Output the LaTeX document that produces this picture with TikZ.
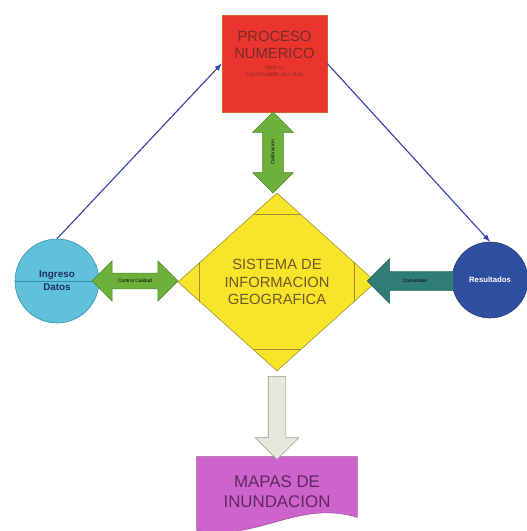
\documentclass[tikz,border=0pt]{standalone}
\usepackage{fontspec}
\setmainfont{Liberation Sans}
\usepackage{tikz}
\usetikzlibrary{positioning,arrows,calc,backgrounds,shapes.geometric,shapes.arrows}
\definecolor{colorproc}     {RGB}{234,52 ,46 }
\definecolor{colorprocline} {RGB}{214,92 ,40 }
\definecolor{colorproctext} {RGB}{120,44 ,40 }
\definecolor{colorgis}      {RGB}{248,228,40 }
\definecolor{colorgisline}  {RGB}{160,140,50 }
\definecolor{colorgistext}  {RGB}{110,90 ,40 }
\definecolor{colorgreen}    {RGB}{110,176,60 }
\definecolor{colorgreenline}{RGB}{78 ,140,44 }
\definecolor{colorteal}     {RGB}{48 ,124,118}
\definecolor{colorin}       {RGB}{96 ,194,218}
\definecolor{colorinline}   {RGB}{50 ,140,180}
\definecolor{colorout}      {RGB}{46 ,78 ,160}
\definecolor{colorlink}     {RGB}{56 ,66 ,170}
\definecolor{colorgrey}     {RGB}{230,232,222}
\definecolor{colorgreyline} {RGB}{150,150,140}
\definecolor{colormap}      {RGB}{204,100,204}
\definecolor{colormaptext}  {RGB}{96 ,40 ,96 }

\begin{document}
\begin{tikzpicture}[
    x=0.025cm, y=-0.025cm,
    base/.style={inner sep=0pt,align=center},
    procbox/.style={base,rectangle,draw=colorprocline,fill=colorproc,text=colorproctext,
        minimum width=2.625cm,minimum height=2.425cm},
    gisbox/.style={base,diamond,draw=colorgisline,fill=colorgis,text=colorgistext,
        minimum width=4.95cm,minimum height=4.45cm,font={\fontsize{10.5}{12.5}\selectfont}},
    datacirc/.style={base,circle,thin},
    dblarrow/.style={double arrow,draw=colorgreenline,fill=colorgreen,
        double arrow head extend=0.31cm,inner xsep=1pt,
        text height=2.5pt,text depth=0.7pt,font={\fontsize{3.5}{4}\selectfont}},
    link/.style={-latex,thick,draw=colorlink},
]

    \useasboundingbox (0,0) rectangle (526,531);

    % Modelo
    \node[procbox] (proc) at (274.5,63.5) {};
    \node[base,text=colorproctext,font={\fontsize{10.5}{12.5}\selectfont}]
        (proctitle) at (274.5,45) {PROCESO\\NUMERICO};
    \node[base,text=colorproctext,font={\fontsize{3.5}{4.5}\selectfont},below=5pt of proctitle]
        (procsub) {MIKE 11\\CON DAMBRK HEC-RAS};

    % SIG
    \node[gisbox] (sig) at (277,282) {SISTEMA DE\\INFORMACION\\GEOGRAFICA};
    \draw[colorgisline] ($(sig.north)+(-24,22)$) -- ($(sig.north)+(24,22)$);
    \draw[colorgisline] ($(sig.south)+(-24,-22)$) -- ($(sig.south)+(24,-22)$);
    \draw[colorgisline] ($(sig.west)+(22,-20)$) -- ($(sig.west)+(22,20)$);
    \draw[colorgisline] ($(sig.east)+(-22,-20)$) -- ($(sig.east)+(-22,20)$);

    % Datos
    \node[datacirc,draw=colorinline,fill=colorin,minimum size=2.1cm] (ingreso) at (57,281) {};
    \draw[colorinline] (ingreso.west) -- (ingreso.east);
    \node[base,text=colorout!60!black,font={\fontsize{7}{8}\selectfont\bfseries},above=1pt of ingreso.center] {Ingreso};
    \node[base,text=colorout!60!black,font={\fontsize{7}{8}\selectfont\bfseries},below=2pt of ingreso.center] {Datos};
    \node[datacirc,draw=colorout!80!black,fill=colorout,text=white,minimum size=1.9cm,
        font={\fontsize{5.5}{6}\selectfont\bfseries}] (result) at (490,280) {Resultados};

    % Flechas
    \node[dblarrow,rotate=90,inner ysep=5.5pt,double arrow head extend=0.25cm,minimum height=2.025cm]
        (calib) at (273,152.5) {Calibracion};
    \node[dblarrow,inner ysep=3.75pt,minimum height=2.15cm] (control) at (135,281) {Control Calidad};
    \node[single arrow,draw=colorteal!80!black,fill=colorteal,shape border rotate=180,
        single arrow head extend=0.325cm,inner ysep=4.8pt,inner xsep=1pt,
        text height=2.5pt,text depth=0.7pt,font={\fontsize{3.5}{4}\selectfont},
        minimum height=2.15cm] (conv) at (415,281) {Conversion};
    \node[single arrow,draw=colorgreyline,fill=colorgrey,shape border rotate=270,
        single arrow head extend=0.325cm,inner xsep=0.2125cm,inner ysep=0pt,
        text height=0pt,text depth=0pt,minimum height=2.075cm] (salida) at (277,413.5) {};

    % Mapas
    \node[base,text=colormaptext,minimum width=4cm,minimum height=1.75cm,
        font={\fontsize{12}{14}\selectfont}] (mapas) at (277,492) {MAPAS DE\\INUNDACION};
    \begin{scope}[on background layer]
        \draw[colormap!80!black,fill=colormap] (mapas.north west) -- (mapas.north east)
            -- ($(mapas.south east)+(0,-10)$)
            .. controls ($(mapas.south east)+(-60,-28)$) and ($(mapas.south west)+(60,15)$)
            .. ($(mapas.south west)+(0,3)$) -- cycle;
    \end{scope}

    % Enlaces
    \draw[link] (ingreso.north) -- (proc.west);
    \draw[link] (proc.east) -- (result.north);

\end{tikzpicture}
\end{document}
